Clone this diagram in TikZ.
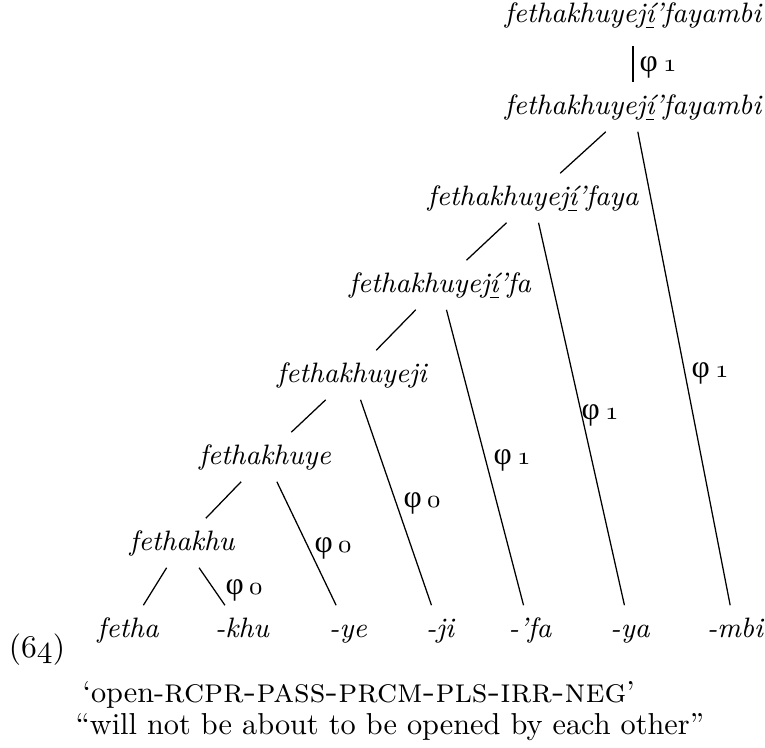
\documentclass[tikz,border=0pt]{standalone}
\usepackage{fontspec}
\newfontfamily\phifont{Liberation Serif}
\newcommand{\osn}[1]{\ensuremath{\mathnormal{#1}}}
\newcommand{\ph}[1]{{\phifont φ}\,{\footnotesize\osn{#1}}}
\newcommand{\accI}{\underline{í}}
\tikzset{
  word/.style={font=\fontsize{8.9}{10}\selectfont\itshape, inner sep=3.5pt, text height=6.5pt, text depth=1.8pt},
  lab/.style={inner sep=1pt},
  glossline/.style={anchor=west, inner sep=0pt, font=\fontsize{9.6}{11}\selectfont}
}
\begin{document}
\begin{tikzpicture}[x=0.317pt,y=-0.317pt]
	\useasboundingbox (0,0) rectangle (765,748);
	% tree nodes
	\node[word] (root) at (633,15) {fethakhuyej\accI’fayambi};
	\node[word] (fayambi) at (633,107) {fethakhuyej\accI’fayambi};
	\node[word] (faya) at (533,198) {fethakhuyej\accI’faya};
	\node[word] (fa) at (440,285) {fethakhuyej\accI’fa};
	\node[word] (yeji) at (352,375) {fethakhuyeji};
	\node[word] (ye) at (265,457) {fethakhuye};
	\node[word] (khu) at (182,543) {fethakhu};
	% leaves
	\node[word] (Lfetha) at (128,630) {fetha};
	\node[word] (Lkhu) at (242,630) {-khu};
	\node[word] (Lye) at (348,630) {-ye};
	\node[word] (Lji) at (440,630) {-ji};
	\node[word] (Lfa) at (530,630) {-’fa};
	\node[word] (Lya) at (630,630) {-ya};
	\node[word] (Lmbi) at (735,630) {-mbi};
	% branches
	\draw[shorten <=2pt] (root) to (fayambi);
	\draw (fayambi) to (faya);
	\draw (fayambi) to (Lmbi);
	\draw (faya) to (fa);
	\draw (faya) to (Lya);
	\draw (fa) to (yeji);
	\draw (fa) to (Lfa);
	\draw (yeji) to (ye);
	\draw (yeji) to (Lji);
	\draw (ye) to (khu);
	\draw (ye) to (Lye);
	\draw (khu) to (Lfetha);
	\draw (khu) to (Lkhu);
	% phase labels
	\node[lab] (p1) at (658,67) {\ph{1}};
	\node[lab] (p2) at (710,373) {\ph{1}};
	\node[lab] (p3) at (600,415) {\ph{1}};
	\node[lab] (p4) at (512,460) {\ph{1}};
	\node[lab] (p5) at (422,503) {\ph{0}};
	\node[lab] (p6) at (333,548) {\ph{0}};
	\node[lab] (p7) at (244,590) {\ph{0}};
	% example number and gloss
	\node (num) at (37,650) {(\osn{64})};
	\node[glossline] (gloss) at (82,695) {‘open-{\fontsize{10.8}{12}\selectfont\textsc{rcpr-pass-prcm-pls-irr-neg}}’};
	\node[glossline] (trans) at (75,727) {“will not be about to be opened by each other”};
\end{tikzpicture}
\end{document}
